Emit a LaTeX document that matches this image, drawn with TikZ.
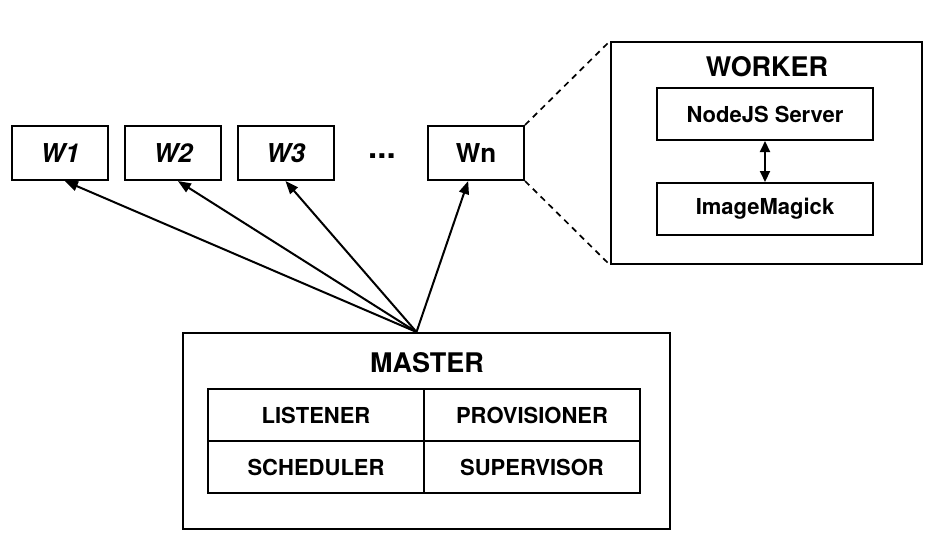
\documentclass[tikz,border=0pt]{standalone}
\usepackage{fontspec}
\setmainfont{TeX Gyre Heros}
\usetikzlibrary{arrows.meta,calc}
\tikzset{
  box/.style={draw,line width=2pt,inner sep=0pt,align=center,font=\bfseries\fontsize{22}{24}\selectfont},
  wbox/.style={box,minimum width=96pt,minimum height=54pt,font=\bfseries\itshape\fontsize{26}{28}\selectfont},
  title/.style={inner sep=0pt,font=\bfseries\fontsize{27}{30}\selectfont},
  cell/.style={box,minimum width=216pt,minimum height=52pt},
  link/.style={line width=2pt,-{Triangle[length=13pt,width=10pt]}},
  zoomline/.style={line width=1.7pt,dash pattern=on 6pt off 5pt}
}
\begin{document}
\begin{tikzpicture}[x=1pt,y=-1pt]
\useasboundingbox (0,0) rectangle (936,544);
% workers
\node[wbox] (w1) at (60,153) {W1};
\node[wbox] (w2) at (173,153) {W2};
\node[wbox] (w3) at (285.5,153) {W3};
\node[title,font=\bfseries\fontsize{33}{36}\selectfont] (dots) at (382,156) {...};
\node[wbox,font=\bfseries\fontsize{26}{28}\selectfont] (wn) at (476,153) {Wn};
% worker detail
\node[box,minimum width=311pt,minimum height=222pt] (worker) at (766.5,153) {};
\node[title] (wtitle) at (767,67) {WORKER};
\node[box,minimum width=216pt,minimum height=52pt] (node) at (765,114) {NodeJS Server};
\node[box,minimum width=216pt,minimum height=52pt] (im) at (765,209) {ImageMagick};
\draw[line width=2pt,{Triangle[length=11pt,width=10pt]}-{Triangle[length=11pt,width=10pt]}] (node.south) -- (im.north);
\draw[zoomline] (wn.north east) -- (worker.north west);
\draw[zoomline] (wn.south east) -- (worker.south west);
% master
\node[box,minimum width=487pt,minimum height=196pt] (master) at (426.5,431) {};
\node[title] (mtitle) at (427,363) {MASTER};
\node[cell] (listener) at (316,415) {LISTENER};
\node[cell] (prov) at (532,415) {PROVISIONER};
\node[cell] (sched) at (316,467) {SCHEDULER};
\node[cell] (sup) at (532,467) {SUPERVISOR};
\coordinate (m) at ($(master.north)+(-10,0)$);
% arrows
\draw[link] (m) -- ($(w1.south west)!0.55!(w1.south east)$);
\draw[link] (m) -- ($(w2.south west)!0.55!(w2.south east)$);
\draw[link] (m) -- ($(w3.south west)!0.5!(w3.south east)$);
\draw[link] (m) -- ($(wn.south west)!0.42!(wn.south east)$);
\end{tikzpicture}
\end{document}
